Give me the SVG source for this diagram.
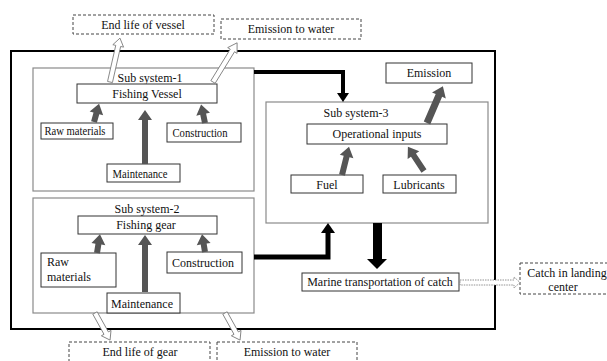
<svg xmlns="http://www.w3.org/2000/svg" width="607" height="361" viewBox="0 0 607 361" font-family="Liberation Serif, Times New Roman, serif">
<style>
text{font-family:'Liberation Serif','Times New Roman',serif;font-size:12px;fill:#111;text-anchor:middle}
.sub{fill:#fff;stroke:#8a8a8a;stroke-width:1.2}
.box{fill:#fff;stroke:#333;stroke-width:1}
.dash{fill:#fff;stroke:#444;stroke-width:1;stroke-dasharray:3,2}
.gray{fill:#555;stroke:none}
.hollow{fill:#fff;stroke:#777;stroke-width:0.8}
.blk{fill:none;stroke:#000;stroke-linejoin:miter}
</style>
<rect width="607" height="361" fill="#fff"/>
<rect x="11" y="51" width="484" height="278" fill="none" stroke="#000" stroke-width="2"/>

<g id="ss1">
<rect class="sub" x="33" y="68" width="221" height="123"/>
<text x="150" y="82">Sub system-1</text>
</g>
<g id="ss2">
<rect class="sub" x="33" y="198" width="221" height="115"/>
<text x="147" y="213">Sub system-2</text>
</g>
<g id="ss3">
<rect class="sub" x="266" y="102" width="222" height="121"/>
<text x="356" y="117">Sub system-3</text>
</g>

<g id="end-life-vessel"><rect class="dash" x="73" y="15" width="141" height="19"/><text x="143" y="29">End life of vessel</text></g>
<g id="emission-water-top"><rect class="dash" x="221" y="19" width="140" height="20"/><text x="291" y="33">Emission to water</text></g>

<g id="fishing-vessel"><rect class="box" x="77" y="84" width="140" height="19"/><text x="147" y="98">Fishing Vessel</text></g>
<g id="raw1"><rect class="box" x="41" y="123" width="72" height="16"/><text x="75" y="135" textLength="61" lengthAdjust="spacingAndGlyphs">Raw materials</text></g>
<g id="constr1"><rect class="box" x="167" y="123" width="74" height="19"/><text x="200" y="137" textLength="55" lengthAdjust="spacingAndGlyphs">Construction</text></g>
<g id="maint1"><rect class="box" x="107" y="164" width="73" height="18"/><text x="140" y="178" textLength="55" lengthAdjust="spacingAndGlyphs">Maintenance</text></g>

<g id="fishing-gear"><rect class="box" x="78" y="216" width="139" height="18"/><text x="146" y="229">Fishing gear</text></g>
<g id="raw2"><rect class="box" x="41" y="253" width="75" height="34"/><text x="47" y="266" style="text-anchor:start">Raw</text><text x="47" y="281" style="text-anchor:start">materials</text></g>
<g id="constr2"><rect class="box" x="167" y="252" width="75" height="21"/><text x="203" y="267">Construction</text></g>
<g id="maint2"><rect class="box" x="107" y="293" width="73" height="20"/><text x="142" y="308">Maintenance</text></g>

<g id="emission"><rect class="box" x="386" y="63" width="86" height="20"/><text x="429" y="77">Emission</text></g>
<g id="operational"><rect class="box" x="307" y="124" width="140" height="20"/><text x="377" y="138">Operational inputs</text></g>
<g id="fuel"><rect class="box" x="291" y="175" width="72" height="18"/><text x="327" y="189">Fuel</text></g>
<g id="lubricants"><rect class="box" x="383" y="175" width="73" height="18"/><text x="419" y="189">Lubricants</text></g>

<g id="marine"><rect class="box" x="302" y="273" width="157" height="18"/><text x="380" y="286">Marine transportation of catch</text></g>
<g id="catch"><rect class="dash" x="520" y="263" width="95" height="31"/><text x="567" y="277">Catch in landing</text><text x="563" y="291">center</text></g>

<g id="end-life-gear"><rect class="dash" x="69" y="342" width="141" height="24"/><text x="140" y="356">End life of gear</text></g>
<g id="emission-water-bottom"><rect class="dash" x="217" y="342" width="140" height="24"/><text x="287" y="356">Emission to water</text></g>

<g id="connectors">
<path class="hollow" d="M0,-2.5 H37 V-5.5 L45,0 L37,5.5 V2.5 H0 Z" transform="translate(110,82) rotate(-77.2)"/>
<path class="hollow" d="M0,-2.5 H37 V-5.5 L46,0 L37,5.5 V2.5 H0 Z" transform="translate(213,82) rotate(-58.4)"/>
<path class="hollow" d="M0,-2.5 H23 V-5.5 L31,0 L23,5.5 V2.5 H0 Z" transform="translate(95,313) rotate(60.9)"/>
<path class="hollow" d="M0,-2.5 H23 V-5.5 L31,0 L23,5.5 V2.5 H0 Z" transform="translate(225,313) rotate(60.9)"/>
<path d="M460,280 H514 V277 L520,282.5 L514,288 V285 H460 Z" fill="#fff" stroke="#777" stroke-width="0.8" stroke-dasharray="1.5,1"/>
<path class="gray" d="M0,-3 H9 V-7 L19,0 L9,7 V3 H0 Z" transform="translate(94,122) rotate(-74.5)"/>
<path class="gray" d="M0,-3 H44 V-7 L54,0 L44,7 V3 H0 Z" transform="translate(145,164) rotate(-90)"/>
<path class="gray" d="M0,-3 H9 V-7 L19,0 L9,7 V3 H0 Z" transform="translate(205,123) rotate(-101.9)"/>
<path class="gray" d="M0,-3 H9 V-7 L19,0 L9,7 V3 H0 Z" transform="translate(97,253) rotate(-81)"/>
<path class="gray" d="M0,-3 H47 V-7 L57,0 L47,7 V3 H0 Z" transform="translate(145,292) rotate(-90)"/>
<path class="gray" d="M0,-3 H8 V-7 L18,0 L8,7 V3 H0 Z" transform="translate(205,252) rotate(-99.5)"/>
<path class="gray" d="M0,-3 H19 V-7 L29,0 L19,7 V3 H0 Z" transform="translate(342,175) rotate(-76)"/>
<path class="gray" d="M0,-3 H19 V-7 L29,0 L19,7 V3 H0 Z" transform="translate(424,171) rotate(-123.7)"/>
<path class="gray" d="M0,-3.5 H30 V-7.5 L40,0 L30,7.5 V3.5 H0 Z" transform="translate(427,123) rotate(-66.6)"/>
<path class="blk" stroke-width="4" d="M254,72 H343 V93"/>
<path d="M337,93 H349 L343,102 Z" fill="#000"/>
<path class="blk" stroke-width="5" d="M254,257 H328 V232"/>
<path d="M321,233 H335 L328,223 Z" fill="#000"/>
<rect x="373" y="223" width="9" height="37" fill="#000"/>
<path d="M367,259 H387 L377,269 Z" fill="#000"/>
</g>
</svg>
